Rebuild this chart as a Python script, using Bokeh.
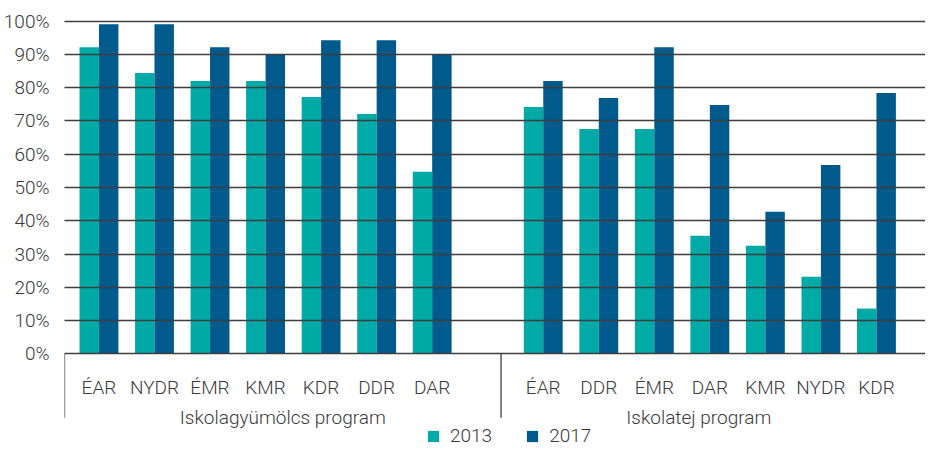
from bokeh.plotting import figure
from bokeh.models import ColumnDataSource, FixedTicker, Legend, LegendItem, Range1d
from bokeh.transform import dodge
from bokeh.core.properties import value
from bokeh.embed import file_html
from bokeh.resources import INLINE

# ---- data ----
fruit_regions = ["ÉAR", "NYDR", "ÉMR", "KMR", "KDR", "DDR", "DAR"]
fruit_2013 = [92.2, 84.4, 82.0, 82.0, 77.2, 72.1, 54.7]
fruit_2017 = [99.1, 99.1, 92.2, 89.8, 94.3, 94.3, 89.8]

milk_regions = ["ÉAR", "DDR", "ÉMR", "DAR", "KMR", "NYDR", "KDR"]
milk_2013 = [74.2, 67.6, 67.6, 35.5, 32.5, 23.2, 13.6]
milk_2017 = [82.0, 76.9, 92.2, 74.8, 42.7, 56.8, 78.4]

group_names = ["Iskolagyümölcs program", "Iskolatej program"]
series_names = ["2013", "2017"]
y_ticks = [0, 10, 20, 30, 40, 50, 60, 70, 80, 90, 100]
y_tick_labels = ["0%", "10%", "20%", "30%", "40%", "50%", "60%", "70%", "80%", "90%", "100%"]

# ---- layout / style ----
TEAL = "#00aaa7"
BLUE = "#005a8c"
TXT = "#3a3a3a"
LINE = "#3f3f3f"
FONT = "Roboto Light"
FS = "19px"

x_start, x_end = -0.6205, 14.883
y_lo, y_hi = -28.17, 101.11
n_left = len(fruit_regions)
x_pos = list(range(n_left)) + [n_left + 1 + i for i in range(len(milk_regions))]
labels = fruit_regions + milk_regions
sep_x = [x_start, 7.24]
group_bounds = [(x_start, 7.24), (7.24, 14.36)]
group_x = [(a + b) / 2 for a, b in group_bounds]

src = ColumnDataSource(dict(x=x_pos, lab=labels,
                            y13=fruit_2013 + milk_2013, y17=fruit_2017 + milk_2017))

p = figure(width=925, height=447, output_backend="svg", toolbar_location=None,
           x_range=Range1d(x_start, x_end), y_range=Range1d(y_lo, y_hi),
           min_border_left=63, min_border_right=0, min_border_top=17, min_border_bottom=0)
p.outline_line_color = None
p.background_fill_color = None
p.border_fill_color = "white"

bw = 0.35
r13 = p.vbar(x=dodge("x", -bw / 2, range=p.x_range), top="y13", bottom=0, width=bw,
             source=src, fill_color=TEAL, line_color=None)
r17 = p.vbar(x=dodge("x", bw / 2, range=p.x_range), top="y17", bottom=0, width=bw,
             source=src, fill_color=BLUE, line_color=None)

# horizontal grid, drawn over the bars
p.xgrid.visible = False
p.ygrid.ticker = FixedTicker(ticks=y_ticks)
p.ygrid.grid_line_color = LINE
p.ygrid.grid_line_width = 1.3
p.ygrid.level = "overlay"

# y axis
p.yaxis.ticker = FixedTicker(ticks=y_ticks)
p.yaxis.major_label_overrides = dict(zip(y_ticks, y_tick_labels))
p.yaxis.axis_line_color = None
p.yaxis.major_tick_line_color = None
p.yaxis.minor_tick_line_color = None
p.yaxis.major_label_standoff = 9
p.yaxis.major_label_text_font = FONT
p.yaxis.major_label_text_font_size = FS
p.yaxis.major_label_text_color = TXT
p.xaxis.visible = False

# category labels, group separators and group names below the 0% line
p.text(x="x", y=-10.04, text="lab", source=src, text_align="center",
       text_baseline="alphabetic", text_font=value(FONT), text_font_size=FS, text_color=TXT)
p.segment(x0=sep_x, y0=0, x1=sep_x, y1=-19.2, line_color=LINE, line_width=1.3)
p.text(x=group_x, y=-19.15, text=group_names, text_align="center",
       text_baseline="alphabetic", text_font=value(FONT), text_font_size=FS, text_color=TXT)

legend = Legend(items=[LegendItem(label=series_names[0], renderers=[r13]),
                       LegendItem(label=series_names[1], renderers=[r17])],
                orientation="horizontal", location=(362, 0))
legend.padding = 0
legend.margin = 0
legend.border_line_color = None
legend.background_fill_color = None
legend.glyph_width = 14
legend.glyph_height = 14
legend.label_height = 14
legend.label_standoff = 10
legend.spacing = 33
legend.label_text_font = FONT
legend.label_text_font_size = FS
legend.label_text_color = TXT
p.add_layout(legend)

open("out.html", "w").write(file_html(p, INLINE))
